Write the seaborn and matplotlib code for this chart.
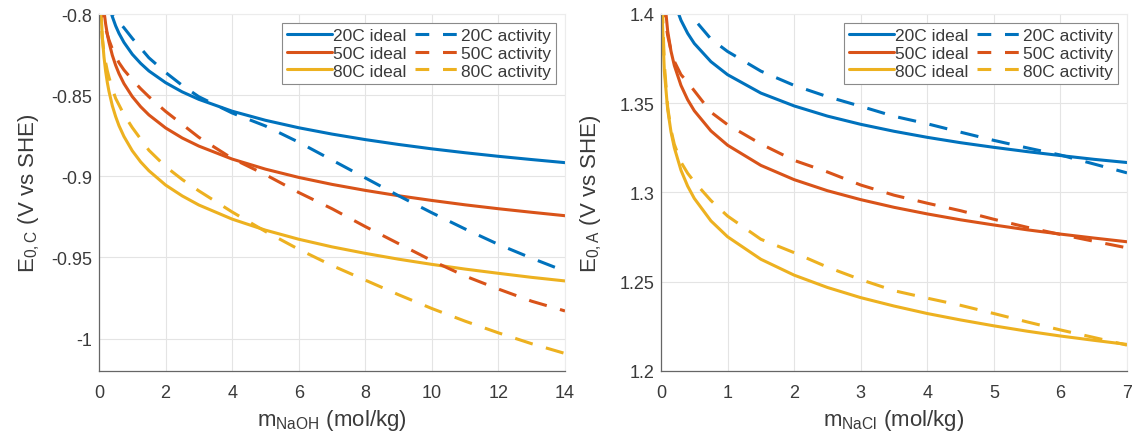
import numpy as np
import pandas as pd
import matplotlib
matplotlib.use("Agg")
import matplotlib.pyplot as plt
import seaborn as sns
from matplotlib.ticker import FuncFormatter
from matplotlib.lines import Line2D

# ---------------- data: cathode (NaOH) ----------------
m_naoh = [0.02, 0.05, 0.1, 0.15, 0.2, 0.25, 0.3, 0.4, 0.5, 0.6, 0.75, 1, 1.25, 1.5, 2, 2.5, 3,
          4, 5, 6, 7, 8, 9, 10, 11, 12, 13, 14]
naoh_20_ideal = [-0.7258, -0.7490, -0.7665, -0.7768, -0.7841, -0.7897, -0.7943, -0.8016, -0.8073,
                 -0.8119, -0.8175, -0.8248, -0.8304, -0.8351, -0.8423, -0.8480, -0.8526,
                 -0.8599, -0.8655, -0.8701, -0.8740, -0.8774, -0.8804, -0.8831, -0.8855, -0.8877,
                 -0.8897, -0.8916]
naoh_50_ideal = [-0.7421, -0.7676, -0.7869, -0.7982, -0.8062, -0.8124, -0.8174, -0.8254, -0.8316,
                 -0.8367, -0.8429, -0.8509, -0.8571, -0.8622, -0.8702, -0.8764, -0.8814,
                 -0.8894, -0.8956, -0.9007, -0.9050, -0.9087, -0.9120, -0.9149, -0.9176, -0.9200,
                 -0.9222, -0.9243]
naoh_80_ideal = [-0.7654, -0.7932, -0.8143, -0.8266, -0.8354, -0.8422, -0.8477, -0.8565, -0.8632,
                 -0.8688, -0.8755, -0.8843, -0.8911, -0.8966, -0.9054, -0.9121, -0.9177,
                 -0.9264, -0.9332, -0.9388, -0.9435, -0.9475, -0.9511, -0.9543, -0.9572, -0.9598,
                 -0.9623, -0.9645]
naoh_20_act = [-0.760, -0.770, -0.779, -0.7845, -0.789, -0.7925, -0.7955, -0.7995, -0.8025,
               -0.805, -0.8085, -0.815, -0.821, -0.827, -0.836, -0.844, -0.851,
               -0.861, -0.869, -0.879, -0.890, -0.901, -0.912, -0.9225, -0.9325, -0.9420,
               -0.9505, -0.9585]
naoh_50_act = [-0.770, -0.785, -0.797, -0.804, -0.809, -0.8125, -0.816, -0.8215, -0.826,
               -0.830, -0.8345, -0.8405, -0.846, -0.851, -0.860, -0.868, -0.876,
               -0.889, -0.899, -0.910, -0.920, -0.931, -0.9415, -0.952, -0.9615, -0.9695,
               -0.9770, -0.9830]
naoh_80_act = [-0.790, -0.800, -0.815, -0.824, -0.830, -0.835, -0.839, -0.846, -0.852,
               -0.856, -0.862, -0.870, -0.877, -0.884, -0.894, -0.902, -0.909,
               -0.922, -0.934, -0.945, -0.955, -0.964, -0.973, -0.9815, -0.9893, -0.9965,
               -1.0032, -1.0092]

# ---------------- data: anode (NaCl) ----------------
m_nacl = [0.02, 0.05, 0.1, 0.15, 0.2, 0.3, 0.4, 0.5, 0.75, 1, 1.5, 2, 2.5, 3, 3.5, 4, 4.5,
          5, 5.5, 6, 6.5, 7]
nacl_20_ideal = [1.4650, 1.4418, 1.4243, 1.4140, 1.4067, 1.3965, 1.3892, 1.3835, 1.3733, 1.3660,
                 1.3557, 1.3485, 1.3428, 1.3382, 1.3343, 1.3309, 1.3279, 1.3253, 1.3229, 1.3207,
                 1.3186, 1.3168]
nacl_50_ideal = [1.4353, 1.4098, 1.3905, 1.3792, 1.3712, 1.3600, 1.3520, 1.3458, 1.3345, 1.3265,
                 1.3152, 1.3072, 1.3010, 1.2960, 1.2917, 1.2880, 1.2847, 1.2818, 1.2791, 1.2767,
                 1.2745, 1.2724]
nacl_80_ideal = [1.3965, 1.3681, 1.3466, 1.3340, 1.3251, 1.3125, 1.3036, 1.2967, 1.2841, 1.2752,
                 1.2626, 1.2537, 1.2468, 1.2411, 1.2364, 1.2322, 1.2286, 1.2253, 1.2223, 1.2196,
                 1.2172, 1.2149]
nacl_20_act = [1.440, 1.432, 1.425, 1.418, 1.412, 1.405, 1.4005, 1.397, 1.386, 1.379,
               1.368, 1.360, 1.3537, 1.3483, 1.3427, 1.3385, 1.3338, 1.3292, 1.3250, 1.3210,
               1.3160, 1.3110]
nacl_50_act = [1.415, 1.400, 1.388, 1.3795, 1.3735, 1.366, 1.3618, 1.357, 1.345, 1.338,
               1.3272, 1.3180, 1.3115, 1.3042, 1.2985, 1.2940, 1.2898, 1.2850, 1.2805, 1.2765,
               1.2727, 1.2690]
nacl_80_act = [1.405, 1.372, 1.348, 1.335, 1.327, 1.317, 1.3108, 1.306, 1.2955, 1.2868,
               1.2738, 1.2663, 1.2582, 1.2512, 1.2450, 1.2408, 1.2368, 1.2322, 1.2275, 1.2230,
               1.2188, 1.2145]

temps = ["20C", "50C", "80C"]
colors = ["#0072BD", "#D95319", "#EDB120"]

# ---------------- figure ----------------
sns.set_style("white")
plt.rcParams['font.family'] = ['Liberation Sans', 'DejaVu Sans']
plt.rcParams['mathtext.fontset'] = 'custom'
plt.rcParams['mathtext.rm'] = 'Liberation Sans'
plt.rcParams['mathtext.it'] = 'Liberation Sans'

W, H = 1136, 439
fig = plt.figure(figsize=(W / 100, H / 100), dpi=100)
top_px, bot_px = 15, 372
ax1 = fig.add_axes([99 / W, 1 - bot_px / H, 466 / W, (bot_px - top_px) / H])
ax2 = fig.add_axes([661 / W, 1 - bot_px / H, 466 / W, (bot_px - top_px) / H])

LW = 2.2
DASH = (6, 4.5)
TXT = "#3a3a3a"

def draw(ax, x, ideal, act):
    for i in range(3):
        sns.lineplot(x=x, y=ideal[i], ax=ax, color=colors[i], linewidth=LW, legend=False)
    for i in range(3):
        sns.lineplot(x=x, y=act[i], ax=ax, color=colors[i], linewidth=LW, legend=False,
                     linestyle=(0, DASH))

draw(ax1, m_naoh, [naoh_20_ideal, naoh_50_ideal, naoh_80_ideal],
     [naoh_20_act, naoh_50_act, naoh_80_act])
draw(ax2, m_nacl, [nacl_20_ideal, nacl_50_ideal, nacl_80_ideal],
     [nacl_20_act, nacl_50_act, nacl_80_act])

fmt = FuncFormatter(lambda v, p: ('%g' % round(v, 4)))

def style(ax, xlim, ylim, xticks, yticks, xlabel, ylabel):
    ax.set_xlim(*xlim)
    ax.set_ylim(*ylim)
    ax.set_xticks(xticks)
    ax.set_yticks(yticks)
    ax.xaxis.set_major_formatter(fmt)
    ax.yaxis.set_major_formatter(fmt)
    ax.grid(True, color="#e4e4e4", linewidth=0.8)
    ax.set_axisbelow(True)
    for s in ["top", "right"]:
        ax.spines[s].set_color("#ececec")
        ax.spines[s].set_linewidth(0.8)
    for s in ["left", "bottom"]:
        ax.spines[s].set_color("#666666")
        ax.spines[s].set_linewidth(0.9)
    ax.tick_params(axis="both", direction="in", length=3, width=0.8, color="#666666",
                   labelsize=13, labelcolor=TXT)
    ax.tick_params(axis="x", pad=9)
    ax.tick_params(axis="y", pad=5)
    ax.set_xlabel(xlabel, fontsize=16, color=TXT)
    ax.set_ylabel(ylabel, fontsize=16, color=TXT)
    ax.xaxis.set_label_coords(0.5, -0.135)
    ax.xaxis.label.set_va("center")
    ax.yaxis.set_label_coords(-0.15, 0.5)
    ax.yaxis.label.set_va("center")
    handles = [Line2D([], [], color=c, lw=LW) for c in colors] + \
              [Line2D([], [], color=c, lw=LW, linestyle=(0, (4.5, 4.5))) for c in colors]
    labels = [t + " ideal" for t in temps] + [t + " activity" for t in temps]
    leg = ax.legend(handles, labels, ncol=2, loc="upper right", fontsize=12.5,
                    handlelength=2.6, handletextpad=0.05, columnspacing=0.5,
                    labelspacing=0.15, borderpad=0.3, borderaxespad=0.5,
                    fancybox=False, framealpha=1, edgecolor="#8a8a8a")
    leg.get_frame().set_linewidth(0.8)
    for t in leg.get_texts():
        t.set_color(TXT)

style(ax1, (0, 14), (-1.02, -0.8), [0, 2, 4, 6, 8, 10, 12, 14],
      [-1.0, -0.95, -0.9, -0.85, -0.8],
      r"m$_{\rm NaOH}$ (mol/kg)", r"E$_{\rm 0,C}$ (V vs SHE)")
style(ax2, (0, 7), (1.2, 1.4), [0, 1, 2, 3, 4, 5, 6, 7],
      [1.2, 1.25, 1.3, 1.35, 1.4],
      r"m$_{\rm NaCl}$ (mol/kg)", r"E$_{\rm 0,A}$ (V vs SHE)")

fig.savefig("out.png", dpi=100)
